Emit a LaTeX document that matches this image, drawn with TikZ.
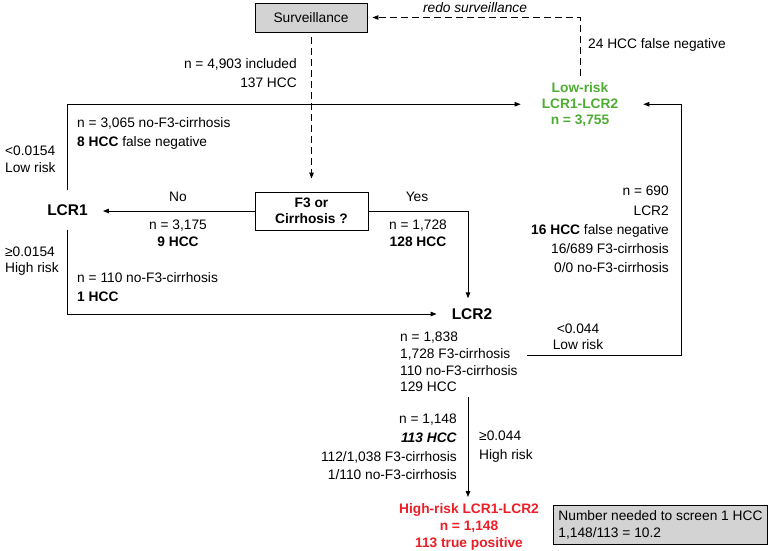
\documentclass[tikz,border=0pt]{standalone}
\usepackage{fontspec}
\setmainfont{Liberation Sans}
\usetikzlibrary{arrows.meta}
\definecolor{lowgreen}{RGB}{77,172,50}
\definecolor{highred}{RGB}{236,30,38}
\definecolor{boxgray}{RGB}{211,211,211}
\newcommand\myfs[1]{\fontsize{13.75}{#1}\selectfont}
\begin{document}
\begin{tikzpicture}[x=1pt,y=-1pt,
  txt/.style={inner sep=0pt,font=\myfs{#1}},
  txt/.default=19,
  bigbold/.style={font=\fontsize{15.5}{18}\selectfont\bfseries,inner xsep=15pt},
  graybox/.style={draw,line width=0.9pt,fill=boxgray,inner sep=0pt},
  cline/.style={line width=0.9pt,-{Triangle[length=6pt,width=4.5pt]}},
  dline/.style={line width=0.9pt,dash pattern=on 7pt off 4pt,-{Triangle[length=6pt,width=4.5pt]}}]
\useasboundingbox (0,0) rectangle (771,551);

% main nodes
\node[graybox,minimum width=112pt,minimum height=29pt,font=\myfs{19}] (surv) at (311,17.5) {Surveillance};
\node[draw,line width=0.9pt,minimum width=113pt,minimum height=38pt,inner sep=0pt,align=center,font=\myfs{16}\bfseries] (f3) at (311.5,211) {F3 or\\Cirrhosis ?};
\node[bigbold,inner ysep=14pt] (lcr1) at (67.5,210) {LCR1};
\node[bigbold,inner ysep=10pt] (lcr2) at (472,314) {LCR2};
\node[inner xsep=21pt,inner ysep=6pt,anchor=north,align=center,text=lowgreen,font=\myfs{16}\bfseries] (low) at (580,76) {Low-risk\\LCR1-LCR2\\n = 3,755};
\node[inner xsep=0pt,inner ysep=6pt,anchor=north,align=center,text=highred,font=\myfs{17}\bfseries] (high) at (469,497) {High-risk LCR1-LCR2\\n = 1,148\\113 true positive};
\node[graybox,anchor=north west,inner xsep=5pt,minimum height=39pt,align=left,font=\myfs{17}] (nnt) at (553,505) {Number needed to screen 1 HCC\\1,148/113 = 10.2};

% labels
\node[txt] (redo) at (475,8) {\itshape redo surveillance};
\node[txt,anchor=west] (fn24) at (588,45) {24 HCC false negative};
\node[txt,anchor=north east,align=right] (n4903) at (297,58) {n = 4,903 included\\137 HCC};
\node[txt,anchor=north west,align=left] (n3065) at (77,117) {n = 3,065 no-F3-cirrhosis\\\textbf{8 HCC} false negative};
\node[txt=16.5,anchor=north west,align=left] (lowr1) at (5,146) {<0.0154\\Low risk};
\node[txt=15.5,anchor=north west,align=left] (highr1) at (5,247) {≥0.0154\\High risk};
\node[txt,anchor=north west,align=left] (n110) at (77,272) {n = 110 no-F3-cirrhosis\\\textbf{1 HCC}};
\node[txt] (no) at (178,197) {No};
\node[txt=17,anchor=north,align=center] (n3175) at (178,220) {n = 3,175\\\textbf{9 HCC}};
\node[txt] (yes) at (417,197) {Yes};
\node[txt=17,anchor=north,align=center] (n1728) at (418,220) {n = 1,728\\\textbf{128 HCC}};
\node[txt=19.2,anchor=north east,align=right] (n690) at (669,186) {n = 690\\LCR2\\\textbf{16 HCC} false negative\\16/689 F3-cirrhosis\\0/0 no-F3-cirrhosis};
\node[txt=16,anchor=north,align=center] (lowr2) at (578,324) {<0.044\\Low risk};
\node[txt=16.7,anchor=north west,align=left] (n1838) at (400,332) {n = 1,838\\1,728 F3-cirrhosis\\110 no-F3-cirrhosis\\129 HCC};
\node[txt=18.7,anchor=north east,align=right] (n1148) at (457,414) {n = 1,148\\\textbf{\textit{113 HCC}}\\112/1,038 F3-cirrhosis\\1/110 no-F3-cirrhosis};
\node[txt=18.5,anchor=north west,align=left] (highr2) at (479,431) {≥0.044\\High risk};

% free ends
\coordinate (lr) at (527,355);
\coordinate (rc) at (681,355);
\coordinate (hs) at (468,397);

% connectors
\draw[dline,shorten <=5pt,shorten >=13pt] (f3.north |- surv.south) -- (f3.north);
\draw[dline,shorten >=5pt] (low.north) |- (surv.east);
\draw[cline] (lcr1.north) |- (low.west);
\draw[cline] (f3.west) -- (f3.west -| lcr1.east);
\draw[cline] (f3.east) -| ([xshift=-4pt]lcr2.north);
\draw[cline] (lcr1.south) |- (lcr2.west);
\draw[cline,shorten >=4pt] (lr) -- (rc) |- (low.east);
\draw[cline] (hs) -- (hs |- high.north);
\end{tikzpicture}
\end{document}
